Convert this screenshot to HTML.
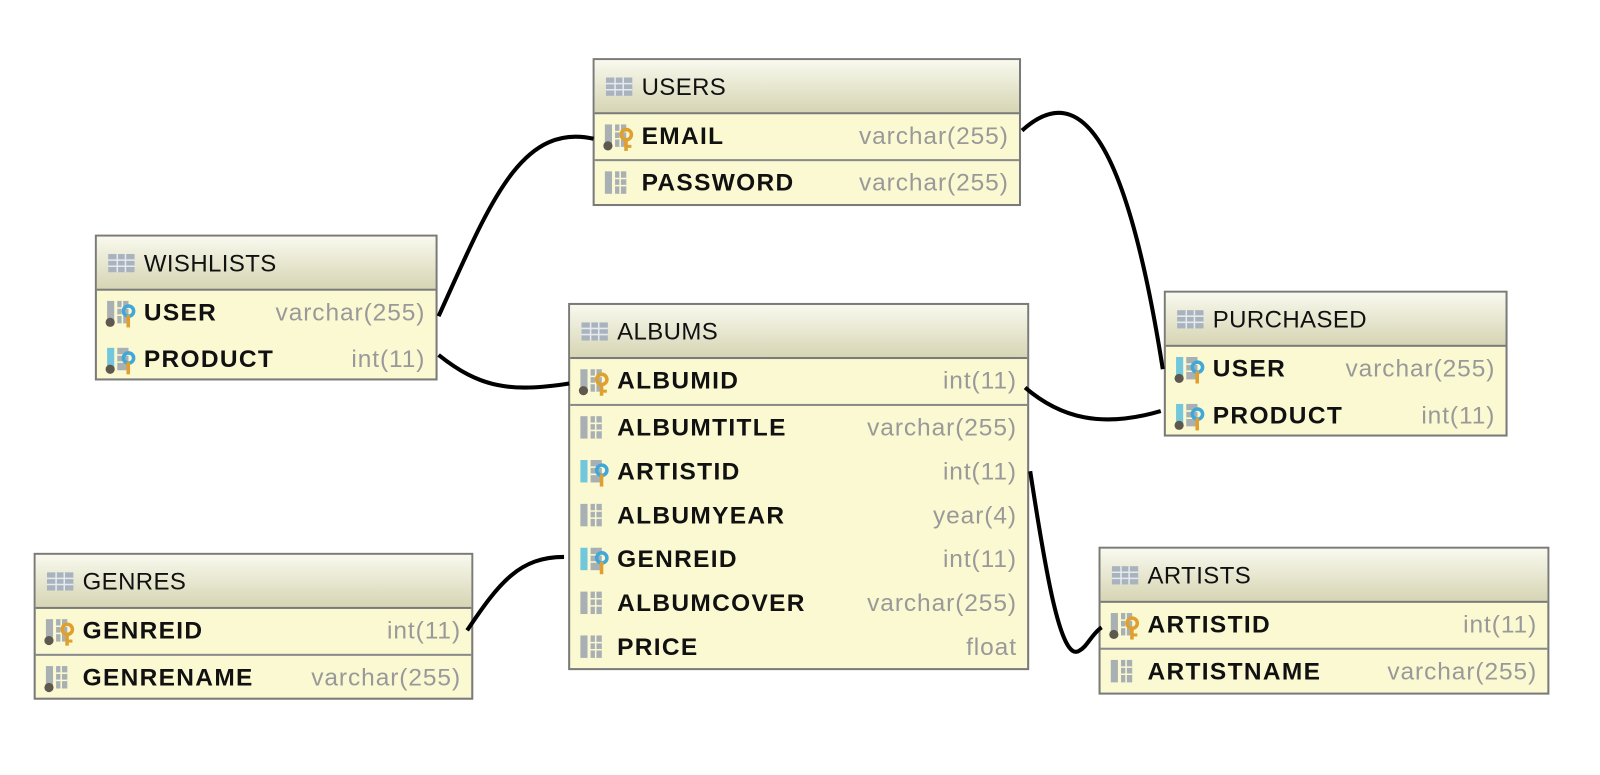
<!DOCTYPE html>
<html><head><meta charset="utf-8"><style>
body{margin:0;width:1600px;height:772px;background:#fff;overflow:hidden;font-family:"Liberation Sans",sans-serif}
#w{position:absolute;left:0;top:0;width:1570px;height:760px;transform:scale(1.02);transform-origin:0 0}
.t{position:absolute;border:2px solid #7a7a7a;background:#fbf9d2;box-sizing:border-box}
.h{height:53px;background:linear-gradient(#f9f9ee,#d6d5b4);border-bottom:2px solid #7a7a7a;box-sizing:border-box;position:relative;font-size:23.5px;letter-spacing:.4px;color:#111}
.h span{position:absolute;left:46px;top:13px}
.h svg{position:absolute;left:11px;top:17px}
.r{position:relative;height:43px;font-size:24px}
.r.pk{height:46px;border-bottom:2px solid #8a8a8a;box-sizing:border-box}
.r b{position:absolute;left:46px;top:8px;font-weight:bold;letter-spacing:1.3px;color:#111}
.r i{position:absolute;right:10px;top:8px;font-style:normal;color:#999;letter-spacing:.9px}
.r svg{position:absolute;left:8px;top:8px}
</style></head><body><div id="w">
<svg width="1570" height="760" style="position:absolute;left:0;top:0;z-index:2" fill="none" stroke="#000" stroke-width="4">
<path d="M430,310 C480,200 510,120 582,136"/>
<path d="M430,348 C470,380 500,385 558,376"/>
<path d="M1002,128 C1060,75 1105,140 1140,362"/>
<path d="M1005,380 C1040,410 1080,420 1138,403"/>
<path d="M1010,462 C1025,560 1040,650 1058,638 C1066,634 1070,622 1080,615"/>
<path d="M458,618 C490,570 510,546 553,546"/>
</svg>
<svg width="0" height="0" style="position:absolute"><defs>
<g id="tb"><rect x="0" y="0" width="26" height="18" fill="#a9b3bd"/><g stroke="#e6eaee" stroke-width="1.5"><line x1="0" y1="6" x2="26" y2="6"/><line x1="0" y1="12" x2="26" y2="12"/><line x1="9" y1="0" x2="9" y2="18"/><line x1="17" y1="0" x2="17" y2="18"/></g></g>
<g id="col"><rect x="2" y="2" width="7" height="22" fill="#a9b0b3"/><rect x="12" y="2" width="11" height="22" fill="#a9b0b3"/><g stroke="#fbf9d2" stroke-width="1.5"><line x1="12" y1="9" x2="23" y2="9"/><line x1="12" y1="16" x2="23" y2="16"/><line x1="17" y1="2" x2="17" y2="24"/></g></g>
<g id="colb"><rect x="2" y="2" width="7" height="22" fill="#72c7dc"/><rect x="12" y="2" width="11" height="22" fill="#a9b0b3"/><g stroke="#fbf9d2" stroke-width="1.5"><line x1="12" y1="9" x2="23" y2="9"/><line x1="12" y1="16" x2="23" y2="16"/></g></g>
<g id="dot"><circle cx="5" cy="23" r="4.5" fill="#5e584e"/></g>
<g id="ky"><circle cx="23" cy="12" r="5" fill="none" stroke="#e0a030" stroke-width="3.5"/><rect x="21" y="16" width="3.5" height="12" fill="#e0a030"/><rect x="24" y="22" width="4" height="3" fill="#e0a030"/></g>
<g id="kb"><circle cx="23" cy="12" r="5" fill="none" stroke="#40a8d8" stroke-width="3.5"/><rect x="21" y="16" width="3.5" height="12" fill="#e0a030"/></g>
</defs></svg>

<div class="t" style="left:581px;top:57px;width:420px;height:145px">
<div class="h"><svg width="26" height="18"><use href="#tb"/></svg><span>USERS</span></div>
<div class="r pk"><svg width="32" height="30"><use href="#col"/><use href="#dot"/><use href="#ky"/></svg><b>EMAIL</b><i>varchar(255)</i></div>
<div class="r"><svg width="32" height="30"><use href="#col"/></svg><b>PASSWORD</b><i>varchar(255)</i></div>
</div>

<div class="t" style="left:93px;top:230px;width:336px;height:143px">
<div class="h"><svg width="26" height="18"><use href="#tb"/></svg><span>WISHLISTS</span></div>
<div class="r" style="height:46px"><svg width="32" height="30"><use href="#col"/><use href="#dot"/><use href="#kb"/></svg><b>USER</b><i>varchar(255)</i></div>
<div class="r"><svg width="32" height="30"><use href="#colb"/><use href="#dot"/><use href="#kb"/></svg><b>PRODUCT</b><i>int(11)</i></div>
</div>

<div class="t" style="left:557px;top:297px;width:452px;height:360px">
<div class="h"><svg width="26" height="18"><use href="#tb"/></svg><span>ALBUMS</span></div>
<div class="r pk"><svg width="32" height="30"><use href="#col"/><use href="#dot"/><use href="#ky"/></svg><b>ALBUMID</b><i>int(11)</i></div>
<div class="r"><svg width="32" height="30"><use href="#col"/></svg><b>ALBUMTITLE</b><i>varchar(255)</i></div>
<div class="r"><svg width="32" height="30"><use href="#colb"/><use href="#kb"/></svg><b>ARTISTID</b><i>int(11)</i></div>
<div class="r"><svg width="32" height="30"><use href="#col"/></svg><b>ALBUMYEAR</b><i>year(4)</i></div>
<div class="r"><svg width="32" height="30"><use href="#colb"/><use href="#kb"/></svg><b>GENREID</b><i>int(11)</i></div>
<div class="r"><svg width="32" height="30"><use href="#col"/></svg><b>ALBUMCOVER</b><i>varchar(255)</i></div>
<div class="r"><svg width="32" height="30"><use href="#col"/></svg><b>PRICE</b><i>float</i></div>
</div>

<div class="t" style="left:1141px;top:285px;width:337px;height:143px">
<div class="h"><svg width="26" height="18"><use href="#tb"/></svg><span>PURCHASED</span></div>
<div class="r" style="height:46px"><svg width="32" height="30"><use href="#colb"/><use href="#dot"/><use href="#kb"/></svg><b>USER</b><i>varchar(255)</i></div>
<div class="r"><svg width="32" height="30"><use href="#colb"/><use href="#dot"/><use href="#kb"/></svg><b>PRODUCT</b><i>int(11)</i></div>
</div>

<div class="t" style="left:33px;top:542px;width:431px;height:144px">
<div class="h"><svg width="26" height="18"><use href="#tb"/></svg><span>GENRES</span></div>
<div class="r pk"><svg width="32" height="30"><use href="#col"/><use href="#dot"/><use href="#ky"/></svg><b>GENREID</b><i>int(11)</i></div>
<div class="r"><svg width="32" height="30"><use href="#col"/><use href="#dot"/></svg><b>GENRENAME</b><i>varchar(255)</i></div>
</div>

<div class="t" style="left:1077px;top:536px;width:442px;height:145px">
<div class="h"><svg width="26" height="18"><use href="#tb"/></svg><span>ARTISTS</span></div>
<div class="r pk"><svg width="32" height="30"><use href="#col"/><use href="#dot"/><use href="#ky"/></svg><b>ARTISTID</b><i>int(11)</i></div>
<div class="r"><svg width="32" height="30"><use href="#col"/></svg><b>ARTISTNAME</b><i>varchar(255)</i></div>
</div>
</div></body></html>
